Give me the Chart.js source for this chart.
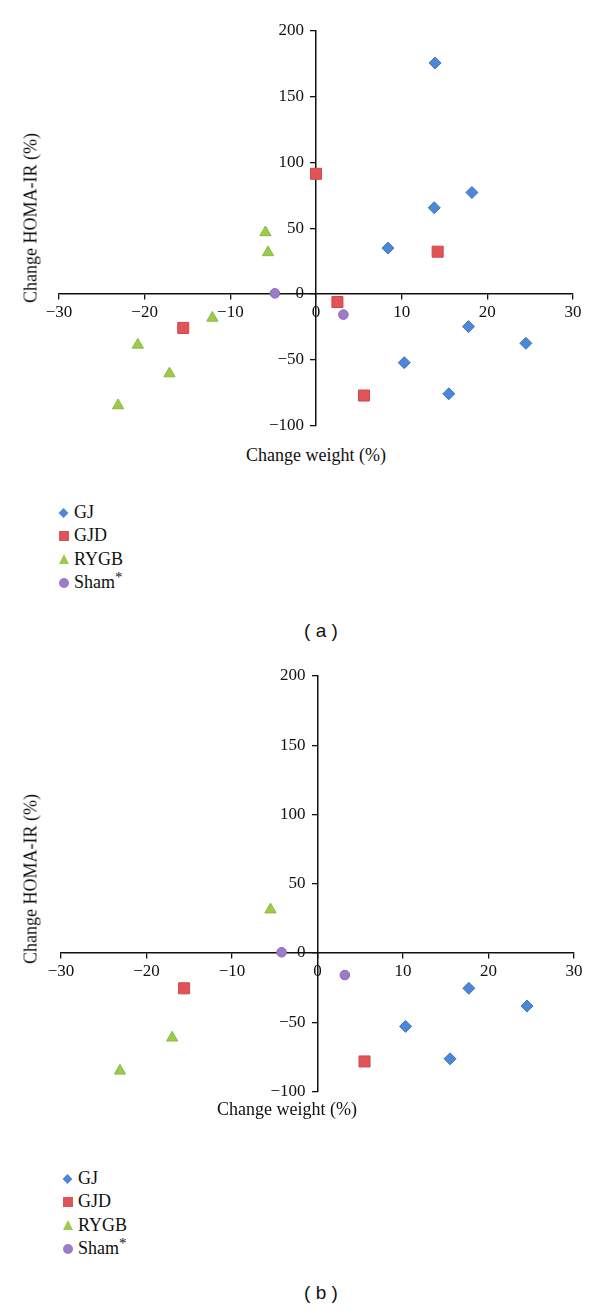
<!DOCTYPE html>
<html>
<head>
<meta charset="utf-8">
<script src="https://cdn.jsdelivr.net/npm/chart.js@4/dist/chart.umd.min.js"></script>
<style>
  body { margin: 0; background: #fff; }
  #page { position: relative; width: 600px; height: 1311px; overflow: hidden; font-family: 'Liberation Serif', 'DejaVu Serif', serif; color: #111; }
  canvas { position: absolute; left: 0; }
  .ytitle { position: absolute; font-size: 18px; white-space: nowrap; transform: translate(-50%, -50%) rotate(-90deg); }
  .xtitle { position: absolute; font-size: 18px; white-space: nowrap; transform: translate(-50%, -50%); }
  .legend { position: absolute; font-size: 18px; }
  .legend .row { position: relative; height: 23.3px; line-height: 23.3px; padding-left: 15px; }
  .legend .mk { position: absolute; left: 0; top: 50%; }
  .legend sup { font-size: 15px; vertical-align: 6px; line-height: 0; }
  .panel { position: absolute; font-family: 'Liberation Sans', Arial, sans-serif; font-size: 19px; transform: translate(-50%, -50%); white-space: pre; }
</style>
</head>
<body>
<div id="page">
  <canvas id="chartA" width="600" height="440" style="top:0"></canvas>
  <canvas id="chartB" width="600" height="455" style="top:650px"></canvas>
</div>
<script>
// groups and their look
const groups = ['GJ', 'GJD', 'RYGB', 'Sham'];
const groupColors = ['#4d87d8', '#e05457', '#9bcb4c', '#9c7bc9'];
const groupBorders = ['#3f76c4', '#d0484b', '#8aba3e', '#8a69b8'];
const groupStyles = ['rectRot', 'rect', 'triangle', 'circle'];
const groupRadius = [6, 7.8, 6.5, 4.8];

const xTicks = [-30, -20, -10, 0, 10, 20, 30];
const yTicks = [-100, -50, 0, 50, 100, 150, 200];

// panel (a): change in weight (%) and change in HOMA-IR (%)
const gjWeightA   = [13.9, 18.2, 13.8, 8.4, 17.8, 24.5, 10.3, 15.5];
const gjHomaA     = [175.7, 77.2, 65.6, 34.9, -24.8, -37.5, -52.2, -75.9];
const gjdWeightA  = [0.0, 14.2, 2.5, -15.5, 5.6];
const gjdHomaA    = [91.4, 32.2, -6.1, -25.8, -77.2];
const rygbWeightA = [-5.9, -5.6, -12.1, -20.8, -17.1, -23.1];
const rygbHomaA   = [46.8, 31.6, -18.2, -38.7, -60.5, -84.8];
const shamWeightA = [-4.8, 3.2];
const shamHomaA   = [0.5, -15.7];

// panel (b)
const gjWeightB   = [17.7, 24.5, 10.3, 15.5];
const gjHomaB     = [-25.5, -38.3, -53.0, -76.4];
const gjdWeightB  = [-15.6, 5.5];
const gjdHomaB    = [-25.5, -78.3];
const rygbWeightB = [-5.5, -17.0, -23.1];
const rygbHomaB   = [31.3, -61.2, -85.1];
const shamWeightB = [-4.2, 3.2];
const shamHomaB   = [0.5, -15.9];

const seriesA = [[gjWeightA, gjHomaA], [gjdWeightA, gjdHomaA], [rygbWeightA, rygbHomaA], [shamWeightA, shamHomaA]];
const seriesB = [[gjWeightB, gjHomaB], [gjdWeightB, gjdHomaB], [rygbWeightB, rygbHomaB], [shamWeightB, shamHomaB]];

const SERIF = "'Liberation Serif', 'DejaVu Serif', serif";

function fmt(v) {
  return v < 0 ? '\u2212' + Math.abs(v) : String(v);
}

function noPadding(scale) {
  scale.paddingLeft = 0; scale.paddingRight = 0;
  scale.paddingTop = 0; scale.paddingBottom = 0;
}

// y labels of an axis placed at x=0 are drawn right on the line: push them left
const shiftYLabels = {
  id: 'shiftYLabels',
  beforeDraw(chart) {
    chart.scales.y.getLabelItems().forEach(it => { it.options.translation[0] -= 12; });
  }
};

function makeChart(id, series, pad) {
  const datasets = series.map((s, i) => ({
    label: groups[i],
    data: s[0].map((x, k) => ({ x, y: s[1][k] })),
    pointStyle: groupStyles[i],
    pointRadius: groupRadius[i],
    pointHoverRadius: groupRadius[i],
    backgroundColor: groupColors[i],
    borderColor: groupBorders[i],
    borderWidth: 1,
  }));

  return new Chart(document.getElementById(id).getContext('2d'), {
    type: 'scatter',
    data: { datasets },
    plugins: [shiftYLabels],
    options: {
      responsive: false,
      animation: false,
      events: [],
      layout: { padding: pad },
      plugins: { legend: { display: false }, tooltip: { enabled: false } },
      scales: {
        x: {
          type: 'linear',
          min: xTicks[0], max: xTicks[xTicks.length - 1],
          position: { y: 0 },
          afterBuildTicks: s => { s.ticks = xTicks.map(v => ({ value: v })); },
          afterFit: noPadding,
          ticks: { callback: fmt, color: '#111', font: { family: SERIF, size: 17 }, padding: 3, maxRotation: 0, autoSkip: false },
          grid: { drawOnChartArea: false, color: '#111', tickLength: 5, lineWidth: 1.3 },
          border: { color: '#111', width: 1.5 },
        },
        y: {
          type: 'linear',
          min: yTicks[0], max: yTicks[yTicks.length - 1],
          position: { x: 0 },
          afterBuildTicks: s => { s.ticks = yTicks.map(v => ({ value: v })); },
          afterFit: noPadding,
          ticks: { callback: fmt, color: '#111', font: { family: SERIF, size: 17 }, padding: 6, autoSkip: false },
          grid: { drawOnChartArea: false, color: '#111', tickLength: 5, lineWidth: 1.3 },
          border: { color: '#111', width: 1.5 },
        }
      }
    }
  });
}

makeChart('chartA', seriesA, { left: 59, right: 27, top: 31, bottom: 14.5 });
makeChart('chartB', seriesB, { left: 61, right: 26, top: 26, bottom: 13.5 });

// titles, legends and panel labels as plain text
const page = document.getElementById('page');
function addText(cls, text, x, y) {
  const el = document.createElement('div');
  el.className = cls;
  el.textContent = text;
  el.style.left = x + 'px';
  el.style.top = y + 'px';
  page.appendChild(el);
}

function addLegend(x, y) {
  const box = document.createElement('div');
  box.className = 'legend';
  box.style.left = x + 'px';
  box.style.top = y + 'px';
  groups.forEach((g, i) => {
    const row = document.createElement('div');
    row.className = 'row';
    const mk = document.createElement('span');
    mk.className = 'mk';
    const c = groupColors[i];
    if (groupStyles[i] === 'rectRot') {
      mk.style.cssText += `width:7px;height:7px;background:${c};transform:translate(0,-50%) rotate(45deg);left:1px`;
    } else if (groupStyles[i] === 'rect') {
      mk.style.cssText += `width:10px;height:10px;background:${c};transform:translate(0,-50%)`;
    } else if (groupStyles[i] === 'triangle') {
      mk.style.cssText += `width:0;height:0;border-left:5px solid transparent;border-right:5px solid transparent;border-bottom:10px solid ${c};transform:translate(0,-50%)`;
    } else {
      mk.style.cssText += `width:10px;height:10px;border-radius:50%;background:${c};transform:translate(0,-50%)`;
    }
    row.appendChild(mk);
    row.appendChild(document.createTextNode(g));
    if (g === 'Sham') {
      const sup = document.createElement('sup');
      sup.textContent = '*';
      row.appendChild(sup);
    }
    box.appendChild(row);
  });
  page.appendChild(box);
}

addText('ytitle', 'Change HOMA-IR (%)', 31, 218);
addText('xtitle', 'Change weight (%)', 316, 455);
addLegend(59, 501);
addText('panel', '( a )', 321, 631);

addText('ytitle', 'Change HOMA-IR (%)', 31, 879);
addText('xtitle', 'Change weight (%)', 287, 1109);
addLegend(63, 1167);
addText('panel', '( b )', 321, 1293);
</script>
</body>
</html>
